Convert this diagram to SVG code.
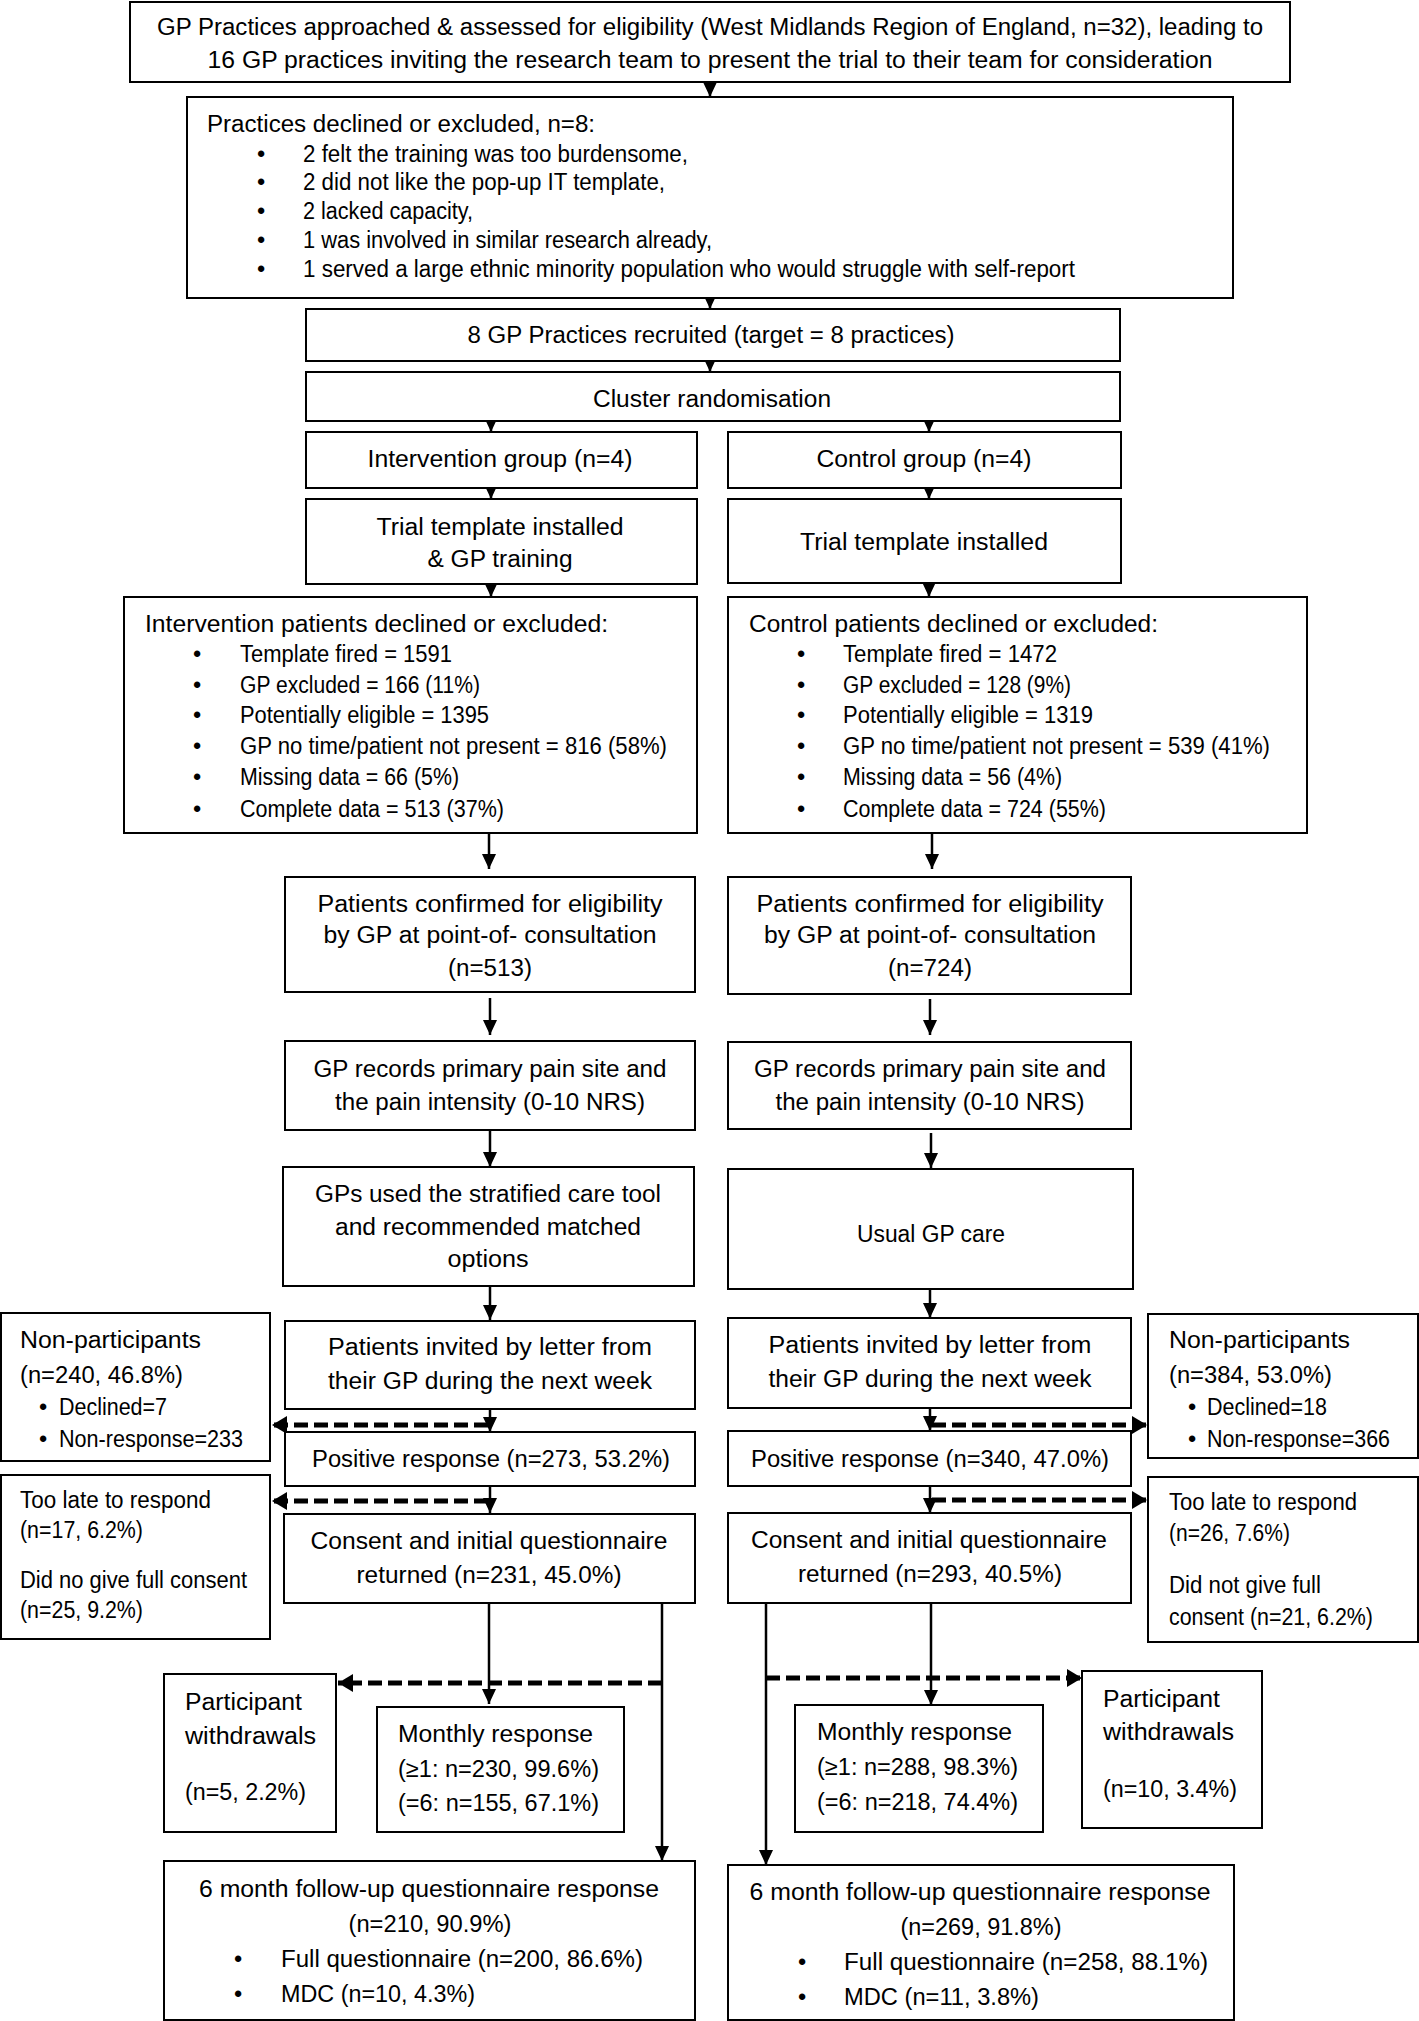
<svg xmlns="http://www.w3.org/2000/svg" width="1419" height="2021" viewBox="0 0 1419 2021">
<style>
.b{fill:#fff;stroke:#000;stroke-width:2}
text{font-family:"Liberation Sans",Arial,sans-serif;font-size:23.5px;fill:#000}
.c{text-anchor:middle}
.a{fill:none;stroke:#000;stroke-width:2.5}
.d{fill:none;stroke:#000;stroke-width:5;stroke-dasharray:14 6}
</style>
<defs>
<marker id="ah" markerUnits="userSpaceOnUse" markerWidth="16" markerHeight="14" refX="15" refY="7" orient="auto"><path d="M0,0 L15,7 L0,14 Z" fill="#000"/></marker>
<marker id="dh" markerUnits="userSpaceOnUse" markerWidth="16" markerHeight="18" refX="15" refY="9" orient="auto"><path d="M0,0 L15,9 L0,18 Z" fill="#000"/></marker>
</defs>
<rect width="1419" height="2021" fill="#fff"/>

<g id="connectors">
<line class="a" x1="710" y1="82" x2="710" y2="97" marker-end="url(#ah)"/>
<line class="a" x1="710" y1="298" x2="710" y2="309" marker-end="url(#ah)"/>
<line class="a" x1="710" y1="361" x2="710" y2="372" marker-end="url(#ah)"/>
<line class="a" x1="491" y1="421" x2="491" y2="432" marker-end="url(#ah)"/>
<line class="a" x1="929" y1="421" x2="929" y2="432" marker-end="url(#ah)"/>
<line class="a" x1="491" y1="488" x2="491" y2="499" marker-end="url(#ah)"/>
<line class="a" x1="929" y1="488" x2="929" y2="499" marker-end="url(#ah)"/>
<line class="a" x1="491" y1="584" x2="491" y2="597" marker-end="url(#ah)"/>
<line class="a" x1="929" y1="583" x2="929" y2="597" marker-end="url(#ah)"/>
<line class="a" x1="489" y1="833" x2="489" y2="869" marker-end="url(#ah)"/>
<line class="a" x1="932" y1="833" x2="932" y2="869" marker-end="url(#ah)"/>
<line class="a" x1="490" y1="998" x2="490" y2="1035" marker-end="url(#ah)"/>
<line class="a" x1="930" y1="999" x2="930" y2="1035" marker-end="url(#ah)"/>
<line class="a" x1="490" y1="1130" x2="490" y2="1167" marker-end="url(#ah)"/>
<line class="a" x1="931" y1="1133" x2="931" y2="1168" marker-end="url(#ah)"/>
<line class="a" x1="490" y1="1286" x2="490" y2="1320" marker-end="url(#ah)"/>
<line class="a" x1="930" y1="1289" x2="930" y2="1318" marker-end="url(#ah)"/>
<line class="a" x1="490" y1="1409" x2="490" y2="1432" marker-end="url(#ah)"/>
<line class="a" x1="930" y1="1408" x2="930" y2="1431" marker-end="url(#ah)"/>
<line class="a" x1="490" y1="1486" x2="490" y2="1513" marker-end="url(#ah)"/>
<line class="a" x1="930" y1="1486" x2="930" y2="1513" marker-end="url(#ah)"/>
<line class="a" x1="489" y1="1603" x2="489" y2="1704" marker-end="url(#ah)"/>
<line class="a" x1="931" y1="1603" x2="931" y2="1705" marker-end="url(#ah)"/>
<line class="a" x1="662" y1="1603" x2="662" y2="1861" marker-end="url(#ah)"/>
<line class="a" x1="766" y1="1603" x2="766" y2="1865" marker-end="url(#ah)"/>
<line class="d" x1="488" y1="1425" x2="272" y2="1425" marker-end="url(#dh)"/>
<line class="d" x1="488" y1="1501" x2="272" y2="1501" marker-end="url(#dh)"/>
<line class="d" x1="932" y1="1425" x2="1147" y2="1425" marker-end="url(#dh)"/>
<line class="d" x1="932" y1="1500" x2="1147" y2="1500" marker-end="url(#dh)"/>
<line class="d" x1="662" y1="1683" x2="338" y2="1683" marker-end="url(#dh)"/>
<line class="d" x1="766" y1="1678" x2="1082" y2="1678" marker-end="url(#dh)"/>
</g>

<g id="n-approached"><rect class="b" x="130" y="2" width="1160" height="80"/>
<text class="c" x="710" y="35" textLength="1106" lengthAdjust="spacingAndGlyphs">GP Practices approached &amp; assessed for eligibility (West Midlands Region of England, n=32), leading to</text>
<text class="c" x="710" y="68" textLength="1005" lengthAdjust="spacingAndGlyphs">16 GP practices inviting the research team to present the trial to their team for consideration</text></g>

<g id="n-declined"><rect class="b" x="187" y="97" width="1046" height="201"/>
<text x="207" y="132" textLength="388" lengthAdjust="spacingAndGlyphs">Practices declined or excluded, n=8:</text>
<text x="257" y="162">•</text><text x="303" y="162" textLength="385" lengthAdjust="spacingAndGlyphs">2 felt the training was too burdensome,</text>
<text x="257" y="190">•</text><text x="303" y="190" textLength="362" lengthAdjust="spacingAndGlyphs">2 did not like the pop-up IT template,</text>
<text x="257" y="219">•</text><text x="303" y="219" textLength="170" lengthAdjust="spacingAndGlyphs">2 lacked capacity,</text>
<text x="257" y="248">•</text><text x="303" y="248" textLength="409" lengthAdjust="spacingAndGlyphs">1 was involved in similar research already,</text>
<text x="257" y="277">•</text><text x="303" y="277" textLength="772" lengthAdjust="spacingAndGlyphs">1 served a large ethnic minority population who would struggle with self-report</text></g>

<g id="n-recruited"><rect class="b" x="306" y="309" width="814" height="52"/>
<text class="c" x="711" y="343" textLength="487" lengthAdjust="spacingAndGlyphs">8 GP Practices recruited (target = 8 practices)</text></g>

<g id="n-cluster"><rect class="b" x="306" y="372" width="814" height="49"/>
<text class="c" x="712" y="407" textLength="238" lengthAdjust="spacingAndGlyphs">Cluster randomisation</text></g>

<g id="n-int-group"><rect class="b" x="306" y="432" width="391" height="56"/>
<text class="c" x="500" y="467" textLength="265" lengthAdjust="spacingAndGlyphs">Intervention group (n=4)</text></g>

<g id="n-con-group"><rect class="b" x="728" y="432" width="393" height="56"/>
<text class="c" x="924" y="467" textLength="215" lengthAdjust="spacingAndGlyphs">Control group (n=4)</text></g>

<g id="n-int-template"><rect class="b" x="306" y="499" width="391" height="85"/>
<text class="c" x="500" y="535" textLength="247" lengthAdjust="spacingAndGlyphs">Trial template installed</text>
<text class="c" x="500" y="567" textLength="145" lengthAdjust="spacingAndGlyphs">&amp; GP training</text></g>

<g id="n-con-template"><rect class="b" x="728" y="499" width="393" height="84"/>
<text class="c" x="924" y="550" textLength="248" lengthAdjust="spacingAndGlyphs">Trial template installed</text></g>

<g id="n-int-declined"><rect class="b" x="124" y="597" width="573" height="236"/>
<text x="145" y="632" textLength="463" lengthAdjust="spacingAndGlyphs">Intervention patients declined or excluded:</text>
<text x="193" y="662">•</text><text x="240" y="662" textLength="212" lengthAdjust="spacingAndGlyphs">Template fired = 1591</text>
<text x="193" y="693">•</text><text x="240" y="693" textLength="240" lengthAdjust="spacingAndGlyphs">GP excluded = 166 (11%)</text>
<text x="193" y="723">•</text><text x="240" y="723" textLength="249" lengthAdjust="spacingAndGlyphs">Potentially eligible = 1395</text>
<text x="193" y="754">•</text><text x="240" y="754" textLength="427" lengthAdjust="spacingAndGlyphs">GP no time/patient not present = 816 (58%)</text>
<text x="193" y="785">•</text><text x="240" y="785" textLength="219" lengthAdjust="spacingAndGlyphs">Missing data = 66 (5%)</text>
<text x="193" y="817">•</text><text x="240" y="817" textLength="264" lengthAdjust="spacingAndGlyphs">Complete data = 513 (37%)</text></g>

<g id="n-con-declined"><rect class="b" x="728" y="597" width="579" height="236"/>
<text x="749" y="632" textLength="409" lengthAdjust="spacingAndGlyphs">Control patients declined or excluded:</text>
<text x="797" y="662">•</text><text x="843" y="662" textLength="214" lengthAdjust="spacingAndGlyphs">Template fired = 1472</text>
<text x="797" y="693">•</text><text x="843" y="693" textLength="228" lengthAdjust="spacingAndGlyphs">GP excluded = 128 (9%)</text>
<text x="797" y="723">•</text><text x="843" y="723" textLength="250" lengthAdjust="spacingAndGlyphs">Potentially eligible = 1319</text>
<text x="797" y="754">•</text><text x="843" y="754" textLength="427" lengthAdjust="spacingAndGlyphs">GP no time/patient not present = 539 (41%)</text>
<text x="797" y="785">•</text><text x="843" y="785" textLength="219" lengthAdjust="spacingAndGlyphs">Missing data = 56 (4%)</text>
<text x="797" y="817">•</text><text x="843" y="817" textLength="263" lengthAdjust="spacingAndGlyphs">Complete data = 724 (55%)</text></g>

<g id="n-int-confirmed"><rect class="b" x="285" y="877" width="410" height="115"/>
<text class="c" x="490" y="912" textLength="345" lengthAdjust="spacingAndGlyphs">Patients confirmed for eligibility</text>
<text class="c" x="490" y="943" textLength="333" lengthAdjust="spacingAndGlyphs">by GP at point-of- consultation</text>
<text class="c" x="490" y="976" textLength="84" lengthAdjust="spacingAndGlyphs">(n=513)</text></g>

<g id="n-con-confirmed"><rect class="b" x="728" y="877" width="403" height="117"/>
<text class="c" x="930" y="912" textLength="347" lengthAdjust="spacingAndGlyphs">Patients confirmed for eligibility</text>
<text class="c" x="930" y="943" textLength="332" lengthAdjust="spacingAndGlyphs">by GP at point-of- consultation</text>
<text class="c" x="930" y="976" textLength="84" lengthAdjust="spacingAndGlyphs">(n=724)</text></g>

<g id="n-int-records"><rect class="b" x="285" y="1041" width="410" height="89"/>
<text class="c" x="490" y="1077" textLength="353" lengthAdjust="spacingAndGlyphs">GP records primary pain site and</text>
<text class="c" x="490" y="1110" textLength="310" lengthAdjust="spacingAndGlyphs">the pain intensity (0-10 NRS)</text></g>

<g id="n-con-records"><rect class="b" x="728" y="1042" width="403" height="87"/>
<text class="c" x="930" y="1077" textLength="352" lengthAdjust="spacingAndGlyphs">GP records primary pain site and</text>
<text class="c" x="930" y="1110" textLength="309" lengthAdjust="spacingAndGlyphs">the pain intensity (0-10 NRS)</text></g>

<g id="n-int-stratified"><rect class="b" x="283" y="1167" width="411" height="119"/>
<text class="c" x="488" y="1202" textLength="346" lengthAdjust="spacingAndGlyphs">GPs used the stratified care tool</text>
<text class="c" x="488" y="1235" textLength="306" lengthAdjust="spacingAndGlyphs">and recommended matched</text>
<text class="c" x="488" y="1267" textLength="81" lengthAdjust="spacingAndGlyphs">options</text></g>

<g id="n-con-usual"><rect class="b" x="728" y="1169" width="405" height="120"/>
<text class="c" x="931" y="1242" textLength="148" lengthAdjust="spacingAndGlyphs">Usual GP care</text></g>

<g id="n-int-invited"><rect class="b" x="285" y="1321" width="410" height="88"/>
<text class="c" x="490" y="1355" textLength="324" lengthAdjust="spacingAndGlyphs">Patients invited by letter from</text>
<text class="c" x="490" y="1389" textLength="324" lengthAdjust="spacingAndGlyphs">their GP during the next week</text></g>

<g id="n-con-invited"><rect class="b" x="728" y="1318" width="403" height="90"/>
<text class="c" x="930" y="1353" textLength="323" lengthAdjust="spacingAndGlyphs">Patients invited by letter from</text>
<text class="c" x="930" y="1387" textLength="323" lengthAdjust="spacingAndGlyphs">their GP during the next week</text></g>

<g id="n-int-nonpart"><rect class="b" x="1" y="1313" width="269" height="148"/>
<text x="20" y="1348" textLength="181" lengthAdjust="spacingAndGlyphs">Non-participants</text>
<text x="20" y="1383" textLength="163" lengthAdjust="spacingAndGlyphs">(n=240, 46.8%)</text>
<text x="39" y="1415">•</text><text x="59" y="1415" textLength="108" lengthAdjust="spacingAndGlyphs">Declined=7</text>
<text x="39" y="1447">•</text><text x="59" y="1447" textLength="184" lengthAdjust="spacingAndGlyphs">Non-response=233</text></g>

<g id="n-con-nonpart"><rect class="b" x="1148" y="1314" width="270" height="144"/>
<text x="1169" y="1348" textLength="181" lengthAdjust="spacingAndGlyphs">Non-participants</text>
<text x="1169" y="1383" textLength="163" lengthAdjust="spacingAndGlyphs">(n=384, 53.0%)</text>
<text x="1188" y="1415">•</text><text x="1207" y="1415" textLength="120" lengthAdjust="spacingAndGlyphs">Declined=18</text>
<text x="1188" y="1447">•</text><text x="1207" y="1447" textLength="183" lengthAdjust="spacingAndGlyphs">Non-response=366</text></g>

<g id="n-int-positive"><rect class="b" x="285" y="1432" width="410" height="54"/>
<text class="c" x="491" y="1467" textLength="358" lengthAdjust="spacingAndGlyphs">Positive response (n=273, 53.2%)</text></g>

<g id="n-con-positive"><rect class="b" x="728" y="1431" width="403" height="55"/>
<text class="c" x="930" y="1467" textLength="358" lengthAdjust="spacingAndGlyphs">Positive response (n=340, 47.0%)</text></g>

<g id="n-int-toolate"><rect class="b" x="1" y="1475" width="269" height="164"/>
<text x="20" y="1508" textLength="191" lengthAdjust="spacingAndGlyphs">Too late to respond</text>
<text x="20" y="1538" textLength="123" lengthAdjust="spacingAndGlyphs">(n=17, 6.2%)</text>
<text x="20" y="1588" textLength="227" lengthAdjust="spacingAndGlyphs">Did no give full consent</text>
<text x="20" y="1618" textLength="123" lengthAdjust="spacingAndGlyphs">(n=25, 9.2%)</text></g>

<g id="n-con-toolate"><rect class="b" x="1148" y="1477" width="270" height="165"/>
<text x="1169" y="1510" textLength="188" lengthAdjust="spacingAndGlyphs">Too late to respond</text>
<text x="1169" y="1541" textLength="121" lengthAdjust="spacingAndGlyphs">(n=26, 7.6%)</text>
<text x="1169" y="1593" textLength="152" lengthAdjust="spacingAndGlyphs">Did not give full</text>
<text x="1169" y="1625" textLength="204" lengthAdjust="spacingAndGlyphs">consent (n=21, 6.2%)</text></g>

<g id="n-int-consent"><rect class="b" x="284" y="1514" width="411" height="89"/>
<text class="c" x="489" y="1549" textLength="357" lengthAdjust="spacingAndGlyphs">Consent and initial questionnaire</text>
<text class="c" x="489" y="1583" textLength="265" lengthAdjust="spacingAndGlyphs">returned (n=231, 45.0%)</text></g>

<g id="n-con-consent"><rect class="b" x="728" y="1513" width="403" height="90"/>
<text class="c" x="929" y="1548" textLength="356" lengthAdjust="spacingAndGlyphs">Consent and initial questionnaire</text>
<text class="c" x="930" y="1582" textLength="264" lengthAdjust="spacingAndGlyphs">returned (n=293, 40.5%)</text></g>

<g id="n-int-withdraw"><rect class="b" x="164" y="1674" width="172" height="158"/>
<text x="185" y="1710" textLength="117" lengthAdjust="spacingAndGlyphs">Participant</text>
<text x="185" y="1744" textLength="131" lengthAdjust="spacingAndGlyphs">withdrawals</text>
<text x="185" y="1800" textLength="121" lengthAdjust="spacingAndGlyphs">(n=5, 2.2%)</text></g>

<g id="n-int-monthly"><rect class="b" x="377" y="1707" width="247" height="125"/>
<text x="398" y="1742" textLength="195" lengthAdjust="spacingAndGlyphs">Monthly response</text>
<text x="398" y="1777" textLength="201" lengthAdjust="spacingAndGlyphs">(≥1: n=230, 99.6%)</text>
<text x="398" y="1811" textLength="201" lengthAdjust="spacingAndGlyphs">(=6: n=155, 67.1%)</text></g>

<g id="n-con-monthly"><rect class="b" x="795" y="1705" width="248" height="127"/>
<text x="817" y="1740" textLength="195" lengthAdjust="spacingAndGlyphs">Monthly response</text>
<text x="817" y="1775" textLength="201" lengthAdjust="spacingAndGlyphs">(≥1: n=288, 98.3%)</text>
<text x="817" y="1810" textLength="201" lengthAdjust="spacingAndGlyphs">(=6: n=218, 74.4%)</text></g>

<g id="n-con-withdraw"><rect class="b" x="1082" y="1671" width="180" height="157"/>
<text x="1103" y="1707" textLength="117" lengthAdjust="spacingAndGlyphs">Participant</text>
<text x="1103" y="1740" textLength="131" lengthAdjust="spacingAndGlyphs">withdrawals</text>
<text x="1103" y="1797" textLength="134" lengthAdjust="spacingAndGlyphs">(n=10, 3.4%)</text></g>

<g id="n-int-6month"><rect class="b" x="164" y="1861" width="531" height="159"/>
<text class="c" x="429" y="1897" textLength="460" lengthAdjust="spacingAndGlyphs">6 month follow-up questionnaire response</text>
<text class="c" x="430" y="1932" textLength="163" lengthAdjust="spacingAndGlyphs">(n=210, 90.9%)</text>
<text x="234" y="1967">•</text><text x="281" y="1967" textLength="362" lengthAdjust="spacingAndGlyphs">Full questionnaire (n=200, 86.6%)</text>
<text x="234" y="2002">•</text><text x="281" y="2002" textLength="194" lengthAdjust="spacingAndGlyphs">MDC (n=10, 4.3%)</text></g>

<g id="n-con-6month"><rect class="b" x="728" y="1865" width="506" height="155"/>
<text class="c" x="980" y="1900" textLength="461" lengthAdjust="spacingAndGlyphs">6 month follow-up questionnaire response</text>
<text class="c" x="981" y="1935" textLength="161" lengthAdjust="spacingAndGlyphs">(n=269, 91.8%)</text>
<text x="798" y="1970">•</text><text x="844" y="1970" textLength="364" lengthAdjust="spacingAndGlyphs">Full questionnaire (n=258, 88.1%)</text>
<text x="798" y="2005">•</text><text x="844" y="2005" textLength="195" lengthAdjust="spacingAndGlyphs">MDC (n=11, 3.8%)</text></g>
</svg>
